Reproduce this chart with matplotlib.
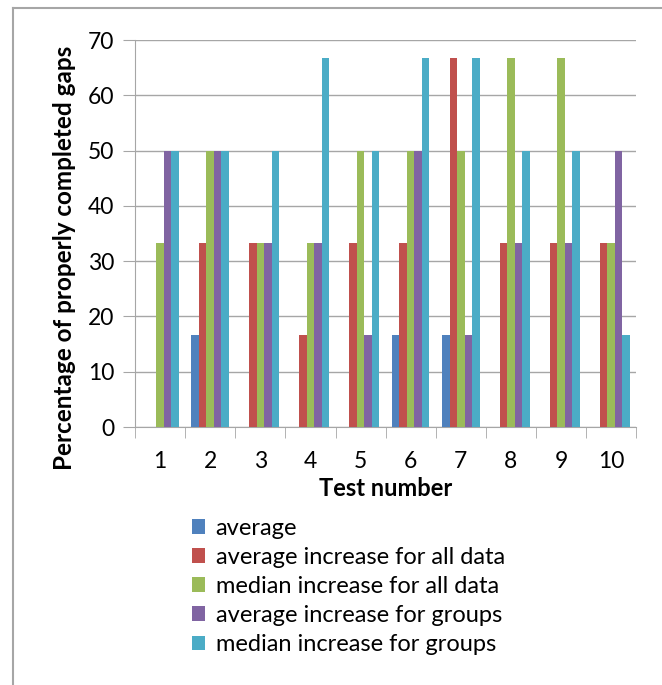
import numpy as np
import matplotlib.pyplot as plt
from matplotlib.lines import Line2D

plt.rcParams['font.family'] = ['Lato', 'DejaVu Sans']

tests = ['1', '2', '3', '4', '5', '6', '7', '8', '9', '10']
series_names = ['average', 'average increase for all data', 'median increase for all data',
                'average increase for groups', 'median increase for groups']
colors = ['#4F81BD', '#C0504D', '#9BBB59', '#8064A2', '#4BACC6']

average = [0, 16.67, 0, 0, 0, 16.67, 16.67, 0, 0, 0]
avg_inc_all = [0, 33.33, 33.33, 16.67, 33.33, 33.33, 66.67, 33.33, 33.33, 33.33]
med_inc_all = [33.33, 50, 33.33, 33.33, 50, 50, 50, 66.67, 66.67, 33.33]
avg_inc_groups = [50, 50, 33.33, 33.33, 16.67, 50, 16.67, 33.33, 33.33, 50]
med_inc_groups = [50, 50, 50, 66.67, 50, 66.67, 66.67, 50, 50, 16.67]
values = [average, avg_inc_all, med_inc_all, avg_inc_groups, med_inc_groups]

fig = plt.figure(figsize=(6.62, 6.85), dpi=100)
ax = fig.add_axes([0.204, 0.3766, 0.757, 0.565])

x = np.arange(len(tests))
w = 0.15
for i, (vals, c, name) in enumerate(zip(values, colors, series_names)):
    ax.bar(x + (i - 2) * w, vals, w, color=c, label=name, zorder=3)

grid_c = '#A6A6A6'
ax.set_ylim(0, 70)
ax.set_yticks(range(0, 71, 10))
ax.set_xlim(-0.5, len(tests) - 0.5)
ax.set_xticks(x)
ax.set_xticklabels(tests)
ax.set_xticks(np.arange(-0.5, len(tests), 1), minor=True)
ax.grid(axis='y', color=grid_c, linewidth=1, zorder=0)
ax.tick_params(axis='y', length=9, color=grid_c, labelsize=16.5, pad=6)
ax.tick_params(axis='x', which='major', length=0, labelsize=16.5, pad=17)
ax.tick_params(axis='x', which='minor', length=8, color=grid_c)
for s in ['top', 'right']:
    ax.spines[s].set_visible(False)
for s in ['left', 'bottom']:
    ax.spines[s].set_color(grid_c)
ax.set_ylabel('Percentage of properly completed gaps', fontsize=17.5, fontweight='bold')
ax.yaxis.set_label_coords(-0.118, 0.437)
ax.set_xlabel('Test number', fontsize=17, fontweight='bold', labelpad=4)

handles, labels = ax.get_legend_handles_labels()
fig.legend(handles, labels, loc='upper left', bbox_to_anchor=(0.258, 0.275), frameon=False,
           fontsize=17, handlelength=0.55, handleheight=0.55, handletextpad=0.45, labelspacing=0.34)

# chart frame (only left and top edges are visible in the crop)
fig.add_artist(Line2D([13 / 662, 13 / 662], [0, 1 - 8 / 685], color='#A6A6A6', linewidth=1.5))
fig.add_artist(Line2D([13 / 662, 1], [1 - 8 / 685, 1 - 8 / 685], color='#A6A6A6', linewidth=1.5))

fig.savefig('out.png', dpi=100)
